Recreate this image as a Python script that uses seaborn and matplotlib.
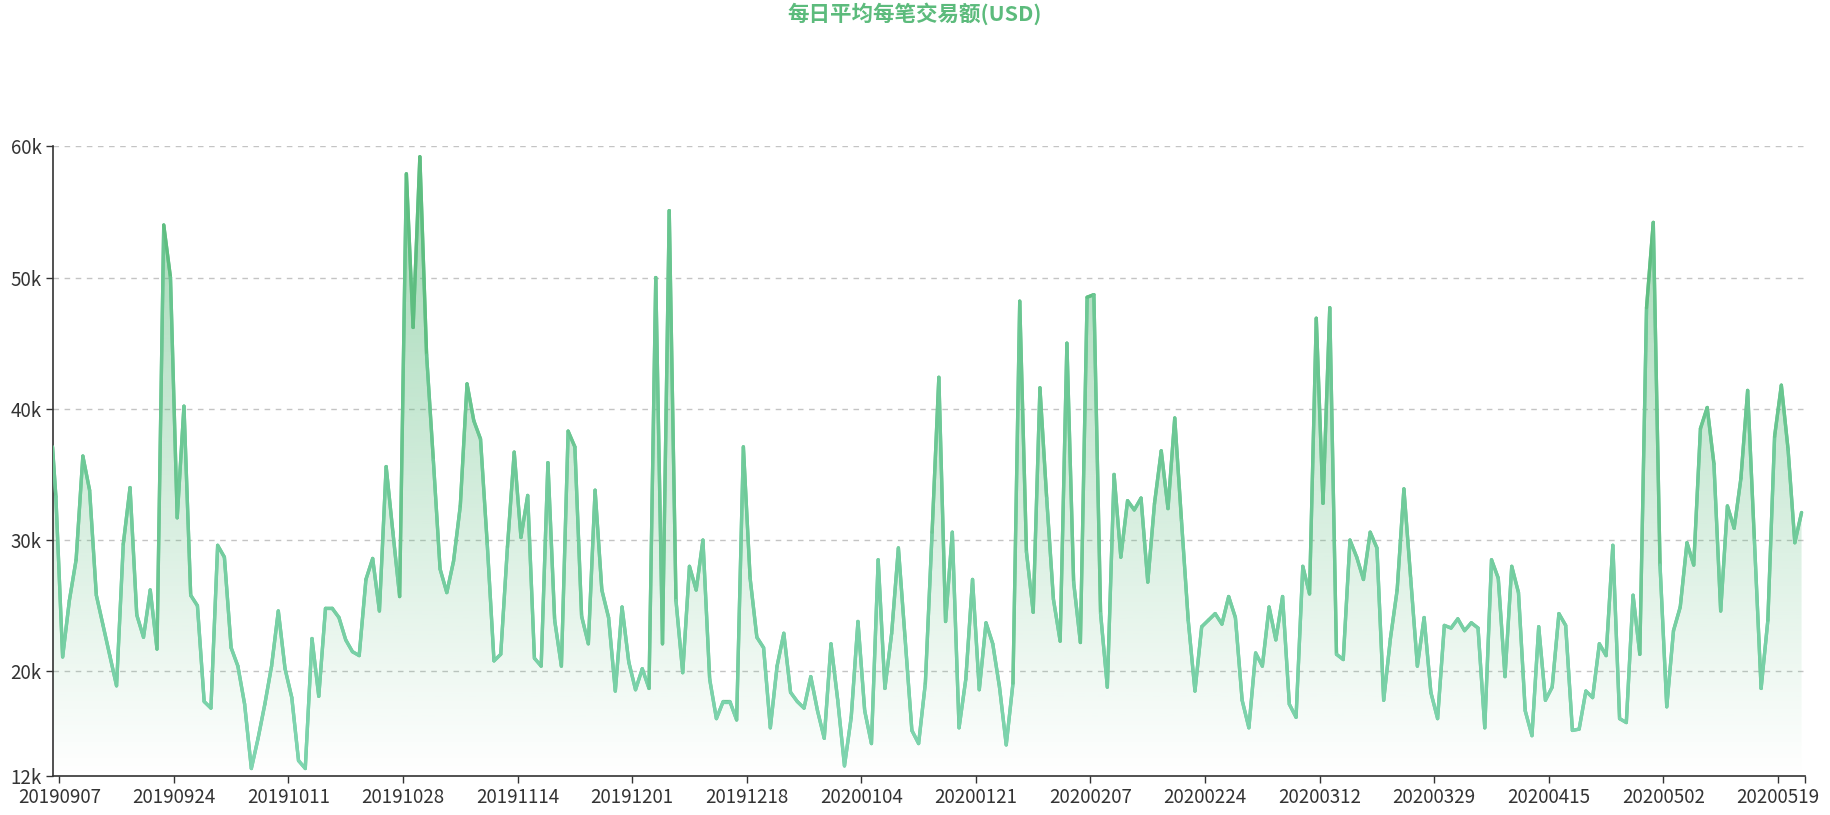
import numpy as np
import pandas as pd
import matplotlib
matplotlib.use("Agg")
import matplotlib.pyplot as plt
import matplotlib.dates as mdates
import seaborn as sns
from matplotlib.collections import LineCollection
from matplotlib.colors import LinearSegmentedColormap, to_rgb
from matplotlib.patches import Polygon

title = "每日平均每笔交易额(USD)"
first_day = "2019-09-06"
last_day = "2020-05-23"

# first reading sits on the axis edge, the daily values follow (in thousands of USD)
start_value_k = 37.1
daily_avg_k = [
    33.3, 21.1, 25.4, 28.5, 36.4, 33.8, 25.8, 23.5, 21.2, 18.9,
    29.7, 34.0, 24.3, 22.6, 26.2, 21.7, 54.0, 50.0, 31.7, 40.2,
    25.8, 25.0, 17.7, 17.2, 29.6, 28.7, 21.8, 20.4, 17.5, 12.6,
    14.9, 17.5, 20.4, 24.6, 20.2, 18.0, 13.2, 12.6, 22.5, 18.1,
    24.8, 24.8, 24.1, 22.4, 21.5, 21.2, 27.0, 28.6, 24.6, 35.6,
    30.6, 25.7, 57.9, 46.2, 59.2, 44.1, 36.1, 27.8, 26.0, 28.4,
    32.6, 41.9, 39.1, 37.7, 29.7, 20.8, 21.3, 29.5, 36.7, 30.2,
    33.4, 21.0, 20.4, 35.9, 23.9, 20.4, 38.3, 37.1, 24.2, 22.1,
    33.8, 26.2, 24.1, 18.5, 24.9, 20.7, 18.6, 20.2, 18.7, 50.0,
    22.1, 55.1, 25.4, 19.9, 28.0, 26.2, 30.0, 19.4, 16.4, 17.7,
    17.7, 16.3, 37.1, 27.1, 22.6, 21.8, 15.7, 20.4, 22.9, 18.4,
    17.7, 17.2, 19.6, 17.0, 14.9, 22.1, 17.8, 12.8, 16.5, 23.8,
    17.0, 14.5, 28.5, 18.7, 22.9, 29.4, 22.5, 15.5, 14.5, 19.1,
    30.6, 42.4, 23.8, 30.6, 15.7, 19.4, 27.0, 18.6, 23.7, 22.1,
    18.8, 14.4, 19.1, 48.2, 29.1, 24.5, 41.6, 33.2, 25.5, 22.3,
    45.0, 26.8, 22.2, 48.5, 48.7, 24.4, 18.8, 35.0, 28.7, 33.0,
    32.3, 33.2, 26.8, 32.8, 36.8, 32.4, 39.3, 31.5, 23.9, 18.5,
    23.4, 23.9, 24.4, 23.6, 25.7, 24.1, 17.8, 15.7, 21.4, 20.4,
    24.9, 22.4, 25.7, 17.5, 16.5, 28.0, 25.9, 46.9, 32.8, 47.7,
    21.3, 20.9, 30.0, 28.7, 27.0, 30.6, 29.4, 17.8, 22.5, 26.2,
    33.9, 27.1, 20.4, 24.1, 18.4, 16.4, 23.5, 23.3, 24.0, 23.1,
    23.7, 23.3, 15.7, 28.5, 27.1, 19.6, 28.0, 26.0, 17.0, 15.1,
    23.4, 17.8, 18.8, 24.4, 23.5, 15.5, 15.6, 18.5, 18.0, 22.1,
    21.2, 29.6, 16.4, 16.1, 25.8, 21.3, 47.7, 54.2, 28.1, 17.3,
    23.1, 24.9, 29.8, 28.1, 38.5, 40.1, 35.8, 24.6, 32.6, 30.9,
    34.7, 41.4, 30.0, 18.7, 23.9, 37.9, 41.8, 36.9, 29.8, 32.1,
]

tick_labels = ["20190907", "20190924", "20191011", "20191028", "20191114",
               "20191201", "20191218", "20200104", "20200121", "20200207",
               "20200224", "20200312", "20200329", "20200415", "20200502",
               "20200519"]
y_ticks = [12, 20, 30, 40, 50, 60]

green_top = "#58b977"
green_low = "#80d6b2"

day0 = pd.Timestamp(first_day)
dates = [day0] + list(pd.date_range(day0 + pd.Timedelta(hours=12),
                                    periods=len(daily_avg_k), freq="D"))
df = pd.DataFrame({"date": dates, "usd_k": [start_value_k] + daily_avg_k})

sns.set_theme(style="white")
plt.rcParams['font.family'] = ['Noto Sans CJK SC', 'DejaVu Sans']

fig = plt.figure(figsize=(18.3, 8.15), dpi=100)
ax = fig.add_axes([0.0287, 0.0474, 0.9576, 0.7731])

sns.lineplot(data=df, x="date", y="usd_k", ax=ax, color="#6cc893",
             linewidth=2.4, zorder=3)

# gradient line colour (darker green on the peaks)
xn = mdates.date2num(df["date"])
yv = df["usd_k"].to_numpy()
pts = np.column_stack([xn, yv])
segs = np.stack([pts[:-1], pts[1:]], axis=1)
line_cmap = LinearSegmentedColormap.from_list("ln", [green_low, green_top])
mid = (yv[:-1] + yv[1:]) / 2
lc = LineCollection(segs, colors=line_cmap(np.clip((mid - 12) / 48, 0, 1)),
                    linewidths=2.4, capstyle="round", zorder=4)
ax.add_collection(lc)

# area with vertical fade to white
poly = Polygon(np.vstack([pts, [[xn[-1], 12], [xn[0], 12]]]), closed=True,
               facecolor="none", edgecolor="none")
ax.add_patch(poly)
r, g, b = to_rgb("#5cbc7e")
area_cmap = LinearSegmentedColormap.from_list("ar", [(r, g, b, 0.0), (r, g, b, 0.6)])
grad = np.linspace(1, 0, 256).reshape(-1, 1)
im = ax.imshow(grad, cmap=area_cmap, extent=[xn[0], xn[-1], 12, 60],
               aspect="auto", origin="upper", zorder=1)
im.set_clip_path(poly)

for v in y_ticks[1:]:
    ax.axhline(v, color="#c4c4c4", lw=1, ls=(0, (4, 4)), zorder=0)

ax.set_xlim(mdates.date2num(day0), mdates.date2num(pd.Timestamp(last_day)))
ax.set_ylim(12, 60)

tick_pos = list(pd.to_datetime(tick_labels, format="%Y%m%d")) + [pd.Timestamp(last_day)]
ax.set_xticks(mdates.date2num(tick_pos))
ax.set_xticklabels(tick_labels + [""])
ax.set_yticks(y_ticks)
ax.set_yticklabels([f"{v}k" for v in y_ticks])

ax.set_xlabel("")
ax.set_ylabel("")
sns.despine(ax=ax)
for s in ["left", "bottom"]:
    ax.spines[s].set_color("#333333")
    ax.spines[s].set_linewidth(1.2)
ax.tick_params(axis="both", direction="out", length=5, width=1, color="#333333",
               labelsize=13.5, labelcolor="#333333", pad=3, left=True, bottom=True)

fig.suptitle(title, x=0.5, y=0.997, va="top", fontsize=15.5, fontweight="bold",
             color="#5cbb7c")

fig.savefig("out.png", dpi=100)
